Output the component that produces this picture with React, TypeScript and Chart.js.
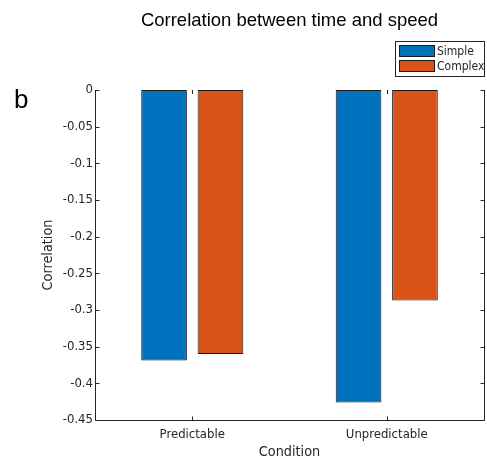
import { useEffect, useRef } from 'react';
import { Chart, registerables } from 'chart.js';

Chart.register(...registerables);

// Data
const categories = ['Predictable', 'Unpredictable'];
const simpleValues = [-0.369, -0.426];
const complexValues = [-0.36, -0.287];
const seriesLabels = ['Simple', 'Complex'];
const seriesColors = ['#0072BD', '#D95319'];
const yMin = -0.45;
const yMax = 0;
const yStep = 0.05;

// Text
const chartTitle = 'Correlation between time and speed';
const xTitle = 'Condition';
const yTitle = 'Correlation';
const panelLetter = 'b';

const AXIS_COLOR = '#262626';
const BAR_EDGE = '#1a1a1a';
const TICK_FONT = '"DejaVu Sans Condensed", "DejaVu Sans", sans-serif';
const TITLE_FONT = '"Liberation Sans", Arial, sans-serif';

// Draws the axis frame with inward ticks, the legend box and the panel letter
const frameAndLegend = {
  id: 'frameAndLegend',
  afterDraw(chart: any) {
    const { ctx, chartArea, scales } = chart;
    const { left, right, top, bottom } = chartArea;
    const px = (v: number) => Math.round(v) + 0.5;
    const tickLen = 4;

    ctx.save();
    ctx.strokeStyle = AXIS_COLOR;
    ctx.lineWidth = 1;
    ctx.beginPath();
    ctx.moveTo(px(left), top);
    ctx.lineTo(px(left), px(bottom));
    ctx.lineTo(px(right), px(bottom));
    ctx.lineTo(px(right), top);
    scales.y.ticks.forEach((t: any) => {
      const y = px(scales.y.getPixelForValue(t.value));
      ctx.moveTo(px(left), y);
      ctx.lineTo(px(left) + tickLen, y);
      ctx.moveTo(px(right), y);
      ctx.lineTo(px(right) - tickLen, y);
    });
    categories.forEach((_, i) => {
      const x = px(scales.x.getPixelForValue(i));
      ctx.moveTo(x, px(bottom));
      ctx.lineTo(x, px(bottom) - tickLen);
      ctx.moveTo(x, top);
      ctx.lineTo(x, top + tickLen);
    });
    ctx.stroke();

    // legend
    const bx = 395.5;
    const by = 41.5;
    const bw = 89;
    const bh = 35;
    ctx.fillStyle = '#ffffff';
    ctx.fillRect(bx, by, bw, bh);
    ctx.strokeStyle = AXIS_COLOR;
    ctx.strokeRect(bx, by, bw, bh);
    chart.data.datasets.forEach((ds: any, i: number) => {
      const sy = 45.5 + i * 15;
      ctx.fillStyle = ds.backgroundColor;
      ctx.fillRect(399.5, sy, 35, 11);
      ctx.strokeStyle = BAR_EDGE;
      ctx.strokeRect(399.5, sy, 35, 11);
      ctx.fillStyle = AXIS_COLOR;
      ctx.font = `12px ${TICK_FONT}`;
      ctx.textBaseline = 'middle';
      ctx.textAlign = 'left';
      ctx.fillText(ds.label, 437, sy + 6);
    });

    // panel letter
    ctx.fillStyle = '#000000';
    ctx.font = `26px ${TITLE_FONT}`;
    ctx.textBaseline = 'alphabetic';
    ctx.textAlign = 'left';
    ctx.fillText(panelLetter, 14, 108);
    ctx.restore();
  },
};

export default function App() {
  const canvasRef = useRef<HTMLCanvasElement>(null);

  useEffect(() => {
    if (!canvasRef.current) return;
    const chart = new Chart(canvasRef.current, {
      type: 'bar',
      data: {
        labels: categories,
        datasets: [
          {
            label: seriesLabels[0],
            data: simpleValues,
            backgroundColor: seriesColors[0],
            borderColor: BAR_EDGE,
            borderWidth: 1,
            borderSkipped: false,
          },
          {
            label: seriesLabels[1],
            data: complexValues,
            backgroundColor: seriesColors[1],
            borderColor: BAR_EDGE,
            borderWidth: 1,
            borderSkipped: false,
          },
        ],
      },
      options: {
        responsive: false,
        animation: false,
        devicePixelRatio: 1,
        layout: { padding: { left: 0, right: 3, top: 0, bottom: 0 } },
        datasets: {
          bar: { categoryPercentage: 0.58, barPercentage: 0.81 },
        },
        plugins: {
          legend: { display: false },
          title: { display: false },
          tooltip: { enabled: false },
        },
        scales: {
          x: {
            type: 'category',
            position: 'bottom',
            grid: { display: false, drawTicks: false },
            border: { display: false },
            ticks: {
              color: AXIS_COLOR,
              font: { family: TICK_FONT, size: 13 },
              padding: 7,
              maxRotation: 0,
            },
            title: {
              display: true,
              text: xTitle,
              color: AXIS_COLOR,
              font: { family: TICK_FONT, size: 14.3 },
              padding: { top: 0, bottom: 2 },
            },
            afterFit: (s: any) => {
              s.height = 43;
            },
          },
          xTop: {
            type: 'category',
            position: 'top',
            labels: categories,
            grid: { display: false, drawTicks: false },
            border: { display: false },
            ticks: { display: false },
            title: {
              display: true,
              text: chartTitle,
              color: '#000000',
              font: { family: TITLE_FONT, size: 18.5 },
              padding: { top: 10, bottom: 0 },
            },
            afterFit: (s: any) => {
              s.height = 90;
            },
          },
          y: {
            type: 'linear',
            min: yMin,
            max: yMax,
            grid: { display: false, drawTicks: false },
            border: { display: false },
            ticks: {
              stepSize: yStep,
              color: AXIS_COLOR,
              font: { family: TICK_FONT, size: 13 },
              padding: 2,
              callback: (v: any) => String(Number(Number(v).toFixed(2))),
            },
            title: {
              display: true,
              text: yTitle,
              color: AXIS_COLOR,
              font: { family: TICK_FONT, size: 14.3 },
              padding: { top: 40, bottom: 0 },
            },
            afterFit: (s: any) => {
              s.width = 95;
            },
          },
        },
      },
      plugins: [frameAndLegend],
    });
    return () => chart.destroy();
  }, []);

  return (
    <div style={{ position: 'fixed', left: 0, top: 0, width: 487, height: 463 }}>
      <canvas ref={canvasRef} width={487} height={463} />
    </div>
  );
}
